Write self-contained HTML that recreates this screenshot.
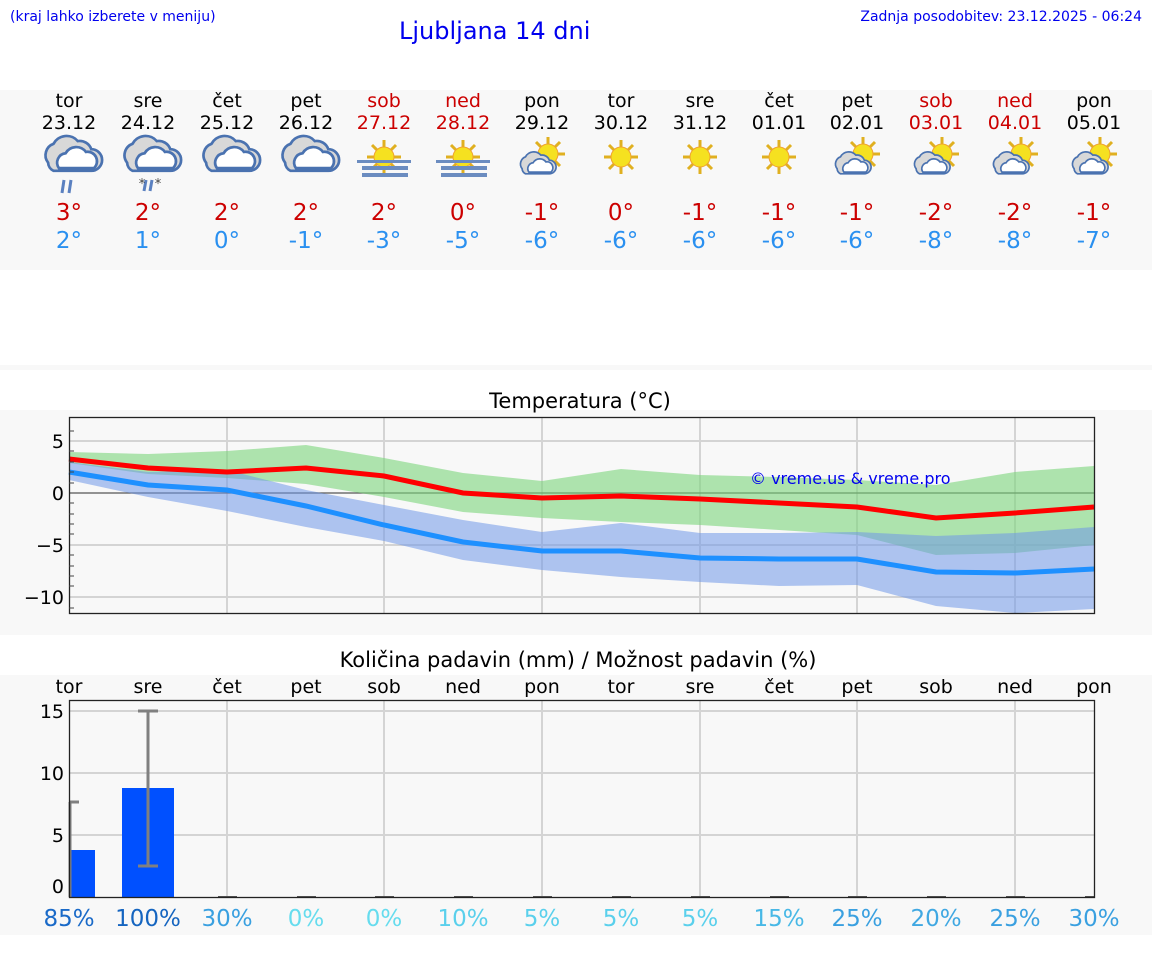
<!DOCTYPE html>
<html><head><meta charset="utf-8"><style>
html,body{margin:0;padding:0;background:#fff;}
svg{display:block;font-family:"DejaVu Sans","Liberation Sans",sans-serif;}
</style></head><body>
<svg width="1152" height="975" viewBox="0 0 1152 975" xmlns="http://www.w3.org/2000/svg">
<defs>
<g id="cloud">
  <path d="M-14,2 a9,9 0 0 1 4,-14 a11,11 0 0 1 18,-2 a9,9 0 0 1 10,6 a8,8 0 0 1 0,16 h-28 a7,7 0 0 1 -4,-6z" fill="#d8d8d8" stroke="#4a72b0" stroke-width="2"/>
  <path d="M-6,6 a7,7 0 0 1 5,-11 a9,9 0 0 1 15,-1 a7,7 0 0 1 6,12z" fill="#fff" stroke="#4a72b0" stroke-width="2"/>
</g>
<g id="sun">
  <g stroke="#e0b020" stroke-width="3">
    <line x1="0" y1="-17" x2="0" y2="17"/><line x1="-17" y1="0" x2="17" y2="0"/>
    <line x1="-12" y1="-12" x2="12" y2="12"/><line x1="-12" y1="12" x2="12" y2="-12"/>
  </g>
  <circle r="10" fill="#f5e120" stroke="#f0a030" stroke-width="1"/>
</g>
<g id="fog">
  <use href="#sun" transform="translate(0,-3)"/>
  <rect x="-27" y="0" width="54" height="3" fill="#6b8cc0"/>
  <rect x="-22" y="6" width="46" height="4" fill="#6b8cc0"/>
  <rect x="-22" y="13" width="46" height="4" fill="#6b8cc0"/>
</g>
<g id="sunc">
  <use href="#sun" transform="translate(6,-4)"/>
  <g transform="translate(-8,9) scale(0.85)"><use href="#cloud"/></g>
</g>
</defs>

<text x="10" y="21" font-size="14" fill="#0000ee">(kraj lahko izberete v meniju)</text>
<text x="399" y="39" font-size="24" fill="#0000ee">Ljubljana 14 dni</text>
<text x="1142" y="21" font-size="14" fill="#0000ee" text-anchor="end">Zadnja posodobitev: 23.12.2025 - 06:24</text>

<rect x="0" y="90" width="1152" height="180" fill="#f8f8f8"/>
<rect x="0" y="365" width="1152" height="5" fill="#f8f8f8"/>
<rect x="0" y="410" width="1152" height="225" fill="#f8f8f8"/>
<rect x="0" y="675" width="1152" height="260" fill="#f8f8f8"/>

<g font-size="19" text-anchor="middle">
<text x="69" y="107">tor</text><text x="148" y="107">sre</text><text x="227" y="107">čet</text><text x="306" y="107">pet</text>
<text x="384" y="107" fill="#cc0000">sob</text><text x="463" y="107" fill="#cc0000">ned</text><text x="542" y="107">pon</text>
<text x="621" y="107">tor</text><text x="700" y="107">sre</text><text x="779" y="107">čet</text><text x="857" y="107">pet</text>
<text x="936" y="107" fill="#cc0000">sob</text><text x="1015" y="107" fill="#cc0000">ned</text><text x="1094" y="107">pon</text>
<text x="69" y="129">23.12</text><text x="148" y="129">24.12</text><text x="227" y="129">25.12</text><text x="306" y="129">26.12</text>
<text x="384" y="129" fill="#cc0000">27.12</text><text x="463" y="129" fill="#cc0000">28.12</text><text x="542" y="129">29.12</text>
<text x="621" y="129">30.12</text><text x="700" y="129">31.12</text><text x="779" y="129">01.01</text><text x="857" y="129">02.01</text>
<text x="936" y="129" fill="#cc0000">03.01</text><text x="1015" y="129" fill="#cc0000">04.01</text><text x="1094" y="129">05.01</text>
</g>

<g transform="translate(67,160) scale(1.35)"><use href="#cloud"/></g>
<g stroke="#5a80c0" stroke-width="3"><line x1="64" y1="180" x2="62" y2="193"/><line x1="71" y1="180" x2="69" y2="193"/></g>
<g transform="translate(146,160) scale(1.35)"><use href="#cloud"/></g>
<g stroke="#5a80c0" stroke-width="3"><line x1="146" y1="180" x2="144" y2="191"/><line x1="152" y1="180" x2="150" y2="191"/></g>
<text x="142" y="188" font-size="13" text-anchor="middle" fill="#444">*</text><text x="158" y="188" font-size="13" text-anchor="middle" fill="#444">*</text>
<g transform="translate(225,160) scale(1.35)"><use href="#cloud"/></g>
<g transform="translate(304,160) scale(1.35)"><use href="#cloud"/></g>
<use href="#fog" transform="translate(384,160)"/>
<use href="#fog" transform="translate(463,160)"/>
<use href="#sunc" transform="translate(542,158)"/>
<use href="#sun" transform="translate(621,157)"/>
<use href="#sun" transform="translate(700,157)"/>
<use href="#sun" transform="translate(779,157)"/>
<use href="#sunc" transform="translate(857,158)"/>
<use href="#sunc" transform="translate(936,158)"/>
<use href="#sunc" transform="translate(1015,158)"/>
<use href="#sunc" transform="translate(1094,158)"/>

<g font-size="23" text-anchor="middle" fill="#cc0000">
<text x="69" y="220">3°</text><text x="148" y="220">2°</text><text x="227" y="220">2°</text><text x="306" y="220">2°</text>
<text x="384" y="220">2°</text><text x="463" y="220">0°</text><text x="542" y="220">-1°</text><text x="621" y="220">0°</text>
<text x="700" y="220">-1°</text><text x="779" y="220">-1°</text><text x="857" y="220">-1°</text><text x="936" y="220">-2°</text>
<text x="1015" y="220">-2°</text><text x="1094" y="220">-1°</text>
</g>
<g font-size="23" text-anchor="middle" fill="#2a90f0">
<text x="69" y="248">2°</text><text x="148" y="248">1°</text><text x="227" y="248">0°</text><text x="306" y="248">-1°</text>
<text x="384" y="248">-3°</text><text x="463" y="248">-5°</text><text x="542" y="248">-6°</text><text x="621" y="248">-6°</text>
<text x="700" y="248">-6°</text><text x="779" y="248">-6°</text><text x="857" y="248">-6°</text><text x="936" y="248">-8°</text>
<text x="1015" y="248">-8°</text><text x="1094" y="248">-7°</text>
</g>

<!-- Temperature chart -->
<text x="580" y="408" font-size="21" text-anchor="middle">Temperatura (°C)</text>
<g stroke="#d4d4d4" stroke-width="2">
<line x1="69" y1="441" x2="1094" y2="441"/><line x1="69" y1="545" x2="1094" y2="545"/><line x1="69" y1="597" x2="1094" y2="597"/>
<line x1="227" y1="417" x2="227" y2="613"/><line x1="384" y1="417" x2="384" y2="613"/><line x1="542" y1="417" x2="542" y2="613"/>
<line x1="700" y1="417" x2="700" y2="613"/><line x1="857" y1="417" x2="857" y2="613"/><line x1="1015" y1="417" x2="1015" y2="613"/>
</g>
<line x1="69" y1="493" x2="1094" y2="493" stroke="#555" stroke-width="1.2"/>
<polygon fill="#7cd67c" fill-opacity="0.6" points="69,452 148,454 227,451 306,445 384,458 463,473 542,481 621,469 700,475 779,477 857,480 936,485 1015,472 1094,466 1094,545 1015,553 936,555 857,535 779,530 700,525 621,522 542,518 463,512 384,497 306,484 227,478 148,474 69,463"/>
<polygon fill="#6f98e8" fill-opacity="0.55" points="69,462 148,472 227,470 306,490 384,505 463,520 542,532 621,523 700,533 779,533 857,532 936,536 1015,533 1094,527 1094,609 1015,613 936,606 857,585 779,586 700,582 621,577 542,570 463,560 384,541 306,527 227,511 148,497 69,480"/>
<polyline fill="none" stroke="#ff0000" stroke-width="5" points="69,459 148,468 227,472 306,468 384,476 463,493 542,498 621,496 700,499 779,503 857,507 936,518 1015,513 1094,507"/>
<polyline fill="none" stroke="#1e90ff" stroke-width="5" points="69,472 148,485 227,490 306,506 384,525 463,542 542,551 621,551 700,558 779,559 857,559 936,572 1015,573 1094,569"/>
<text x="750" y="484" font-size="16" fill="#0000ee">© vreme.us &amp; vreme.pro</text>
<rect x="69.5" y="417.5" width="1025" height="196" fill="none" stroke="#222" stroke-width="1.3"/>
<g stroke="#444" stroke-width="1">
<line x1="69" y1="431" x2="74" y2="431"/><line x1="69" y1="451" x2="74" y2="451"/><line x1="69" y1="462" x2="74" y2="462"/><line x1="69" y1="472" x2="74" y2="472"/><line x1="69" y1="483" x2="74" y2="483"/>
<line x1="69" y1="503" x2="74" y2="503"/><line x1="69" y1="514" x2="74" y2="514"/><line x1="69" y1="524" x2="74" y2="524"/><line x1="69" y1="534" x2="74" y2="534"/>
<line x1="69" y1="555" x2="74" y2="555"/><line x1="69" y1="566" x2="74" y2="566"/><line x1="69" y1="576" x2="74" y2="576"/><line x1="69" y1="586" x2="74" y2="586"/><line x1="69" y1="608" x2="74" y2="608"/>
</g>
<g font-size="19" text-anchor="end">
<text x="64" y="448">5</text><text x="64" y="500">0</text><text x="64" y="552">−5</text><text x="64" y="604">−10</text>
</g>

<!-- Precip chart -->
<text x="578" y="667" font-size="21" text-anchor="middle">Količina padavin (mm) / Možnost padavin (%)</text>
<g font-size="19" text-anchor="middle">
<text x="69" y="693">tor</text><text x="148" y="693">sre</text><text x="227" y="693">čet</text><text x="306" y="693">pet</text>
<text x="384" y="693">sob</text><text x="463" y="693">ned</text><text x="542" y="693">pon</text><text x="621" y="693">tor</text>
<text x="700" y="693">sre</text><text x="779" y="693">čet</text><text x="857" y="693">pet</text><text x="936" y="693">sob</text>
<text x="1015" y="693">ned</text><text x="1094" y="693">pon</text>
</g>
<g stroke="#d4d4d4" stroke-width="2">
<line x1="69" y1="711" x2="1094" y2="711"/><line x1="69" y1="773" x2="1094" y2="773"/><line x1="69" y1="835" x2="1094" y2="835"/>
<line x1="227" y1="700" x2="227" y2="897"/><line x1="384" y1="700" x2="384" y2="897"/><line x1="542" y1="700" x2="542" y2="897"/>
<line x1="700" y1="700" x2="700" y2="897"/><line x1="857" y1="700" x2="857" y2="897"/><line x1="1015" y1="700" x2="1015" y2="897"/>
</g>
<rect x="70" y="850" width="25" height="47" fill="#0050ff"/>
<rect x="122" y="788" width="52" height="109" fill="#0050ff"/>
<g stroke="#808080" stroke-width="3">
<line x1="70" y1="802" x2="70" y2="897"/><line x1="69" y1="802" x2="79" y2="802"/>
<line x1="148" y1="711" x2="148" y2="866"/><line x1="138" y1="711" x2="158" y2="711"/><line x1="138" y1="866" x2="158" y2="866"/>
</g>
<g stroke="#555" stroke-width="2">
<line x1="218" y1="897" x2="237" y2="897"/><line x1="297" y1="897" x2="316" y2="897"/><line x1="375" y1="897" x2="394" y2="897"/><line x1="454" y1="897" x2="473" y2="897"/>
<line x1="533" y1="897" x2="552" y2="897"/><line x1="612" y1="897" x2="631" y2="897"/><line x1="691" y1="897" x2="710" y2="897"/><line x1="770" y1="897" x2="789" y2="897"/>
<line x1="848" y1="897" x2="867" y2="897"/><line x1="927" y1="897" x2="946" y2="897"/><line x1="1006" y1="897" x2="1025" y2="897"/><line x1="1085" y1="897" x2="1094" y2="897"/>
</g>
<rect x="69.5" y="700.5" width="1025" height="197" fill="none" stroke="#222" stroke-width="1.3"/>
<g font-size="19" text-anchor="end">
<text x="64" y="718">15</text><text x="64" y="780">10</text><text x="64" y="842">5</text><text x="64" y="893">0</text>
</g>
<g font-size="23" text-anchor="middle">
<text x="69" y="926" fill="#1a6ac8">85%</text><text x="148" y="926" fill="#1565c0">100%</text>
<text x="227" y="926" fill="#3aa0e0">30%</text><text x="306" y="926" fill="#66dcee">0%</text>
<text x="384" y="926" fill="#66dcee">0%</text><text x="463" y="926" fill="#5ad0ec">10%</text>
<text x="542" y="926" fill="#5ad0ec">5%</text><text x="621" y="926" fill="#5ad0ec">5%</text>
<text x="700" y="926" fill="#5ad0ec">5%</text><text x="779" y="926" fill="#48b8e6">15%</text>
<text x="857" y="926" fill="#3aa0e0">25%</text><text x="936" y="926" fill="#40a8e2">20%</text>
<text x="1015" y="926" fill="#3aa0e0">25%</text><text x="1094" y="926" fill="#3aa0e0">30%</text>
</g>
</svg>
</body></html>
